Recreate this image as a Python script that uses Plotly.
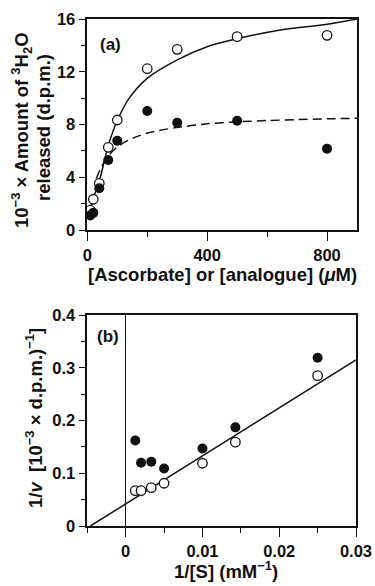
import plotly.graph_objects as go

# ---------------- Panel (a) data ----------------
conc_open = [10, 20, 40, 70, 100, 200, 300, 500, 800]
amount_open = [1.5, 2.33, 3.54, 6.27, 8.34, 12.23, 13.7, 14.66, 14.76]
conc_filled = [10, 20, 40, 70, 100, 200, 300, 500, 800]
amount_filled = [1.1, 1.3, 3.16, 5.31, 6.77, 9.02, 8.14, 8.29, 6.17]

# fitted curves
fit_solid_x = [3, 20, 40, 70, 100, 140, 200, 300, 400, 500, 640, 800, 900]
fit_solid_y = [1.1, 2.4, 3.7, 6.4, 8.3, 10.0, 11.5, 12.9, 13.9, 14.5, 15.15, 15.6, 16.0]
fit_dash_x = [30, 42, 60, 75, 100, 136, 200, 292, 400, 500, 600, 700, 800, 900]
fit_dash_y = [3.9, 4.55, 5.3, 5.75, 6.3, 6.8, 7.35, 7.75, 8.05, 8.2, 8.3, 8.37, 8.43, 8.47]

# ---------------- Panel (b) data ----------------
inv_s = [0.00125, 0.002, 0.00333, 0.005, 0.01, 0.01429, 0.025]
inv_v_open = [0.067, 0.067, 0.0727, 0.081, 0.119, 0.159, 0.285]
inv_v_filled = [0.162, 0.120, 0.122, 0.109, 0.147, 0.187, 0.319]
line_b_x = [-0.0046, 0.03]
line_b_y = [0.0, 0.315]

FONT = "Liberation Sans"
BLACK = "#111111"

fig = go.Figure()

# Panel (a)
fig.add_trace(go.Scatter(x=fit_solid_x, y=fit_solid_y, mode="lines",
                         line=dict(color=BLACK, width=1.5, shape="spline", smoothing=0.8),
                         xaxis="x", yaxis="y", showlegend=False, hoverinfo="skip"))
fig.add_trace(go.Scatter(x=fit_dash_x, y=fit_dash_y, mode="lines",
                         line=dict(color=BLACK, width=1.5, dash="9px,5px", shape="spline", smoothing=0.8),
                         xaxis="x", yaxis="y", showlegend=False, hoverinfo="skip"))
fig.add_trace(go.Scatter(x=conc_open, y=amount_open, mode="markers",
                         marker=dict(symbol="circle", size=9.5, color="white",
                                     line=dict(color=BLACK, width=1.3)),
                         xaxis="x", yaxis="y", showlegend=False, cliponaxis=False))
fig.add_trace(go.Scatter(x=conc_filled, y=amount_filled, mode="markers",
                         marker=dict(symbol="circle", size=10, color=BLACK,
                                     line=dict(color=BLACK, width=0)),
                         xaxis="x", yaxis="y", showlegend=False, cliponaxis=False))

# Panel (b)
fig.add_trace(go.Scatter(x=line_b_x, y=line_b_y, mode="lines",
                         line=dict(color=BLACK, width=1.5),
                         xaxis="x2", yaxis="y2", showlegend=False, hoverinfo="skip"))
fig.add_trace(go.Scatter(x=inv_s, y=inv_v_open, mode="markers",
                         marker=dict(symbol="circle", size=9.5, color="white",
                                     line=dict(color=BLACK, width=1.3)),
                         xaxis="x2", yaxis="y2", showlegend=False, cliponaxis=False))
fig.add_trace(go.Scatter(x=inv_s, y=inv_v_filled, mode="markers",
                         marker=dict(symbol="circle", size=10, color=BLACK,
                                     line=dict(color=BLACK, width=0)),
                         xaxis="x2", yaxis="y2", showlegend=False, cliponaxis=False))

W, H = 375, 586
def px_x(a, b):
    return [a / W, b / W]
def px_y(top, bottom):
    return [1 - bottom / H, 1 - top / H]

tickfont = dict(family=FONT, size=16.5, color=BLACK, weight="bold")
axis_common = dict(showline=True, linecolor=BLACK, linewidth=1.5, mirror=True,
                   ticks="outside", tickcolor=BLACK, tickwidth=1.3,
                   showgrid=False, tickfont=tickfont, automargin=False)

fig.update_layout(
    width=W, height=H,
    margin=dict(l=0, r=0, t=0, b=0),
    paper_bgcolor="white", plot_bgcolor="white",
    xaxis=dict(domain=px_x(87.3, 357), range=[0, 900], tickvals=[0, 400, 800],
               ticklen=9, zeroline=False, anchor="y",
               minor=dict(dtick=200, tick0=0, ticklen=5, ticks="outside",
                          tickcolor=BLACK, tickwidth=1.3), **axis_common),
    yaxis=dict(domain=px_y(19, 230), range=[0, 16], tickvals=[0, 4, 8, 12, 16],
               ticklen=7, zeroline=False, anchor="x",
               minor=dict(dtick=2, tick0=0, ticklen=5, ticks="outside",
                          tickcolor=BLACK, tickwidth=1.3), **axis_common),
    xaxis2=dict(domain=px_x(87.3, 356), range=[-0.005, 0.03],
                tickvals=[0, 0.01, 0.02, 0.03], ticktext=["0", "0.01", "0.02", "0.03"],
                ticklen=9, zeroline=True, zerolinecolor=BLACK, zerolinewidth=1,
                anchor="y2",
                minor=dict(dtick=0.005, tick0=0, ticklen=5, ticks="outside",
                           tickcolor=BLACK, tickwidth=1.3), **axis_common),
    yaxis2=dict(domain=px_y(315, 526), range=[0, 0.4],
                tickvals=[0, 0.1, 0.2, 0.3, 0.4], ticktext=["0", "0.1", "0.2", "0.3", "0.4"],
                ticklen=7, zeroline=False, anchor="x2",
                minor=dict(dtick=0.05, tick0=0, ticklen=5, ticks="outside",
                           tickcolor=BLACK, tickwidth=1.3), **axis_common),
)

tfont = dict(family=FONT, size=18.5, color=BLACK, weight="bold")
lfont = dict(family=FONT, size=17, color=BLACK, weight="bold")

def ann(text, x, y, font, angle=0):
    fig.add_annotation(text=text, x=x / W, y=1 - y / H, xref="paper", yref="paper",
                       showarrow=False, font=font, textangle=angle,
                       xanchor="center", yanchor="middle")

ann("(a)", 110, 44, lfont)
ann("(b)", 108, 336, lfont)
ann("[Ascorbate] or [analogue] (<i>μ</i>M)", 222, 274, tfont)
ann("10<sup>−3</sup> × Amount of <sup>3</sup>H<sub>2</sub>O", 22, 130, tfont, -90)
ann("released (d.p.m.)", 43, 128, tfont, -90)
ann("1/<i>v</i>  [10<sup>−3</sup> × d.p.m.)<sup>−1</sup>]", 34, 418, tfont, -90)
ann("1/[S] (mM<sup>−1</sup>)", 226, 570, tfont)

fig.write_html("out.html",
               config={"displayModeBar": False},
               post_script="document.body.style.margin='0';document.body.style.padding='0';document.body.style.overflow='hidden';")
